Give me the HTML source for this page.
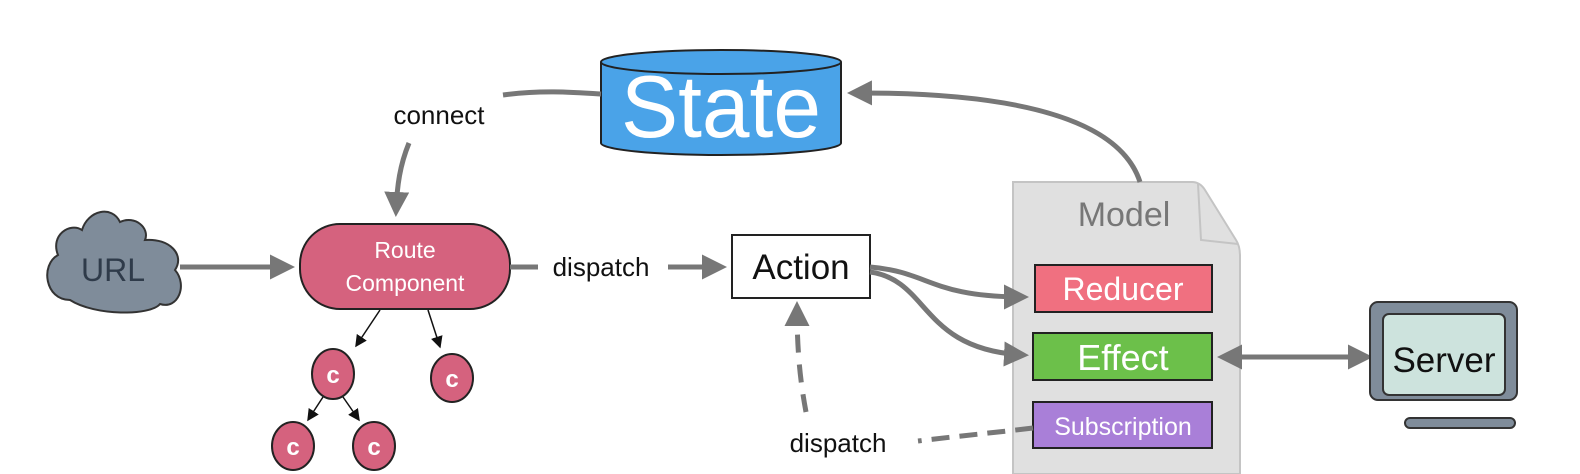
<!DOCTYPE html>
<html><head><meta charset="utf-8"><style>
html,body{margin:0;padding:0;background:#fff;}
svg{display:block;font-family:"Liberation Sans",Arial,sans-serif;}
</style></head><body>
<svg width="1580" height="474" viewBox="0 0 1580 474" xmlns="http://www.w3.org/2000/svg">
<defs>
<marker id="ah" markerWidth="5" markerHeight="5" refX="4" refY="2.5" orient="auto" markerUnits="strokeWidth"><path d="M0,0 L5,2.5 L0,5 z" fill="#777"/></marker>
<marker id="ahs" markerWidth="8" markerHeight="8" refX="7" refY="4" orient="auto" markerUnits="strokeWidth"><path d="M0,0 L8,4 L0,8 z" fill="#111"/></marker>
</defs>
<rect width="1580" height="474" fill="#fff"/>

<path d="M1013,182 L1192,182 Q1200,182 1205,190 L1236,240 Q1240,246 1240,256 L1240,474 L1013,474 Z" fill="#e0e0e0" stroke="#c4c4c4" stroke-width="2"/>
<path d="M1198,184 L1201,240 L1238,244" fill="none" stroke="#c4c4c4" stroke-width="2"/>
<text x="1124" y="226" font-size="34" fill="#777" text-anchor="middle">Model</text>

<path d="M1140,182 C1120,120 1020,92 852,93" fill="none" stroke="#777" stroke-width="5" marker-end="url(#ah)"/>

<path d="M601,62 L601,143 A120,12 0 0 0 841,143 L841,62" fill="#4aa3e8" stroke="#222" stroke-width="2"/>
<ellipse cx="721" cy="62" rx="120" ry="12" fill="#4aa3e8" stroke="#222" stroke-width="2"/>
<text x="721" y="137" font-size="88" fill="#fff" text-anchor="middle" textLength="200" lengthAdjust="spacingAndGlyphs">State</text>

<path d="M503,95 C540,90 570,92 601,94" fill="none" stroke="#777" stroke-width="5"/>
<text x="439" y="124" font-size="26" fill="#111" text-anchor="middle">connect</text>
<path d="M409,143 C400,165 397,185 396,212" fill="none" stroke="#777" stroke-width="5" marker-end="url(#ah)"/>

<path d="M70,300 C45,300 40,265 58,255 C50,235 70,222 82,230 C88,210 112,205 120,222 C135,215 150,228 145,240 C170,238 185,255 175,270 C188,285 178,310 160,304 C150,316 95,316 70,300 Z" fill="#7f8c9a" stroke="#333" stroke-width="2"/>
<text x="113" y="281" font-size="32" fill="#2f3b4a" text-anchor="middle">URL</text>
<path d="M180,267 L290,267" stroke="#777" stroke-width="5" marker-end="url(#ah)"/>

<rect x="300" y="224" width="210" height="85" rx="40" fill="#d5627e" stroke="#222" stroke-width="2"/>
<text x="405" y="258" font-size="23" fill="#fff" text-anchor="middle">Route</text>
<text x="405" y="291" font-size="23" fill="#fff" text-anchor="middle">Component</text>

<g stroke="#111" stroke-width="1.5" fill="none">
<path d="M380,310 L356,346" marker-end="url(#ahs)"/>
<path d="M428,310 L440,347" marker-end="url(#ahs)"/>
<path d="M323,397 L308,420" marker-end="url(#ahs)"/>
<path d="M343,397 L359,420" marker-end="url(#ahs)"/>
</g>
<g fill="#d5627e" stroke="#222" stroke-width="2">
<ellipse cx="333" cy="374" rx="21" ry="25"/>
<ellipse cx="452" cy="378" rx="21" ry="24"/>
<ellipse cx="293" cy="446" rx="21" ry="24"/>
<ellipse cx="374" cy="446" rx="21" ry="24"/>
</g>
<g font-size="24" font-weight="bold" fill="#fff" text-anchor="middle">
<text x="333" y="383">c</text><text x="452" y="387">c</text><text x="293" y="455">c</text><text x="374" y="455">c</text>
</g>

<path d="M510,267 L538,267" stroke="#777" stroke-width="5"/>
<text x="601" y="276" font-size="26" fill="#111" text-anchor="middle">dispatch</text>
<path d="M668,267 L722,267" stroke="#777" stroke-width="5" marker-end="url(#ah)"/>

<rect x="732" y="235" width="138" height="63" fill="#fff" stroke="#222" stroke-width="2"/>
<text x="801" y="279" font-size="35" fill="#111" text-anchor="middle">Action</text>

<path d="M870,267 C930,272 930,297 1024,297" fill="none" stroke="#777" stroke-width="5" marker-end="url(#ah)"/>
<path d="M870,272 C930,280 920,350 1024,355" fill="none" stroke="#777" stroke-width="5" marker-end="url(#ah)"/>

<rect x="1035" y="265" width="177" height="47" fill="#f07080" stroke="#222" stroke-width="2"/>
<text x="1123" y="300" font-size="32" fill="#fff" text-anchor="middle">Reducer</text>
<rect x="1033" y="333" width="179" height="47" fill="#6cc04a" stroke="#222" stroke-width="2"/>
<text x="1123" y="370" font-size="36" fill="#fff" text-anchor="middle">Effect</text>
<rect x="1033" y="402" width="179" height="46" fill="#a97fd8" stroke="#222" stroke-width="2"/>
<text x="1123" y="435" font-size="25" fill="#fff" text-anchor="middle">Subscription</text>

<path d="M1232,357 L1368,357" stroke="#777" stroke-width="5" marker-end="url(#ah)"/>
<path d="M1240,357 L1222,357" stroke="#777" stroke-width="5" marker-end="url(#ah)"/>

<rect x="1370" y="302" width="147" height="98" rx="8" fill="#7f8c9a" stroke="#333" stroke-width="2"/>
<rect x="1383" y="314" width="122" height="81" rx="6" fill="#cde3dd" stroke="#333" stroke-width="2"/>
<text x="1444" y="372" font-size="35" fill="#111" text-anchor="middle">Server</text>
<rect x="1405" y="418" width="110" height="10" rx="5" fill="#7f8c9a" stroke="#333" stroke-width="2"/>

<path d="M1033,428 C1000,432 950,437 918,441" fill="none" stroke="#777" stroke-width="5" stroke-dasharray="18,10"/>
<text x="838" y="452" font-size="26" fill="#111" text-anchor="middle">dispatch</text>
<path d="M806,412 C800,380 797,350 797,306" fill="none" stroke="#777" stroke-width="5" stroke-dasharray="18,12" marker-end="url(#ah)"/>
</svg>
</body></html>
